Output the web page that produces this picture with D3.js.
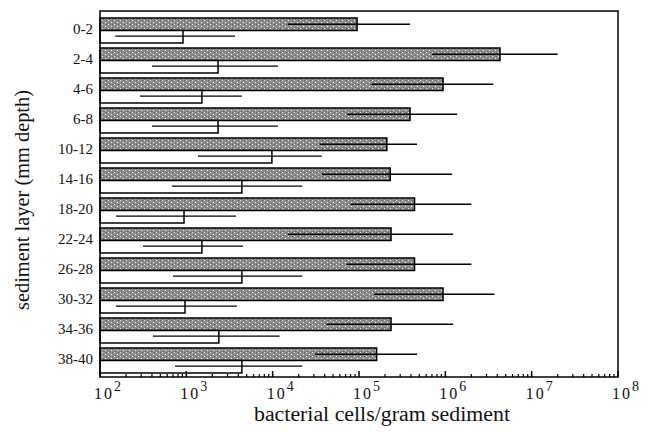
<!DOCTYPE html>
<html>
<head>
<meta charset="utf-8">
<script src="https://cdn.jsdelivr.net/npm/d3@7"></script>
<style>
  body { margin: 0; background: #fff; }
  text { font-family: "Liberation Serif", "DejaVu Serif", serif; fill: #111; }
</style>
</head>
<body>
<div id="vis"></div>
<script>
// sediment layers, top to bottom
const layers = ["0-2", "2-4", "4-6", "6-8", "10-12", "14-16", "18-20", "22-24", "26-28", "30-32", "34-36", "38-40"];

// upper (stippled) bars: mean and error range
const grayMean = [9.5e4, 4.3e6, 9.4e5, 3.9e5, 2.1e5, 2.3e5, 4.4e5, 2.35e5, 4.4e5, 9.4e5, 2.35e5, 1.6e5];
const grayLow  = [1.5e4, 7.0e5, 1.4e5, 7.3e4, 3.5e4, 3.7e4, 8.0e4, 1.5e4, 7.2e4, 1.5e5, 4.2e4, 3.1e4];
const grayHigh = [3.9e5, 2.0e7, 3.6e6, 1.37e6, 4.7e5, 1.2e6, 2.0e6, 1.23e6, 2.0e6, 3.7e6, 1.23e6, 4.7e5];

// lower (white) bars: mean and error range
const whiteMean = [915, 2330, 1515, 2330, 9800, 4400, 940, 1515, 4400, 965, 2380, 4400];
const whiteLow  = [150, 400, 290, 400, 1365, 680, 153, 315, 700, 153, 410, 740];
const whiteHigh = [3660, 11500, 4400, 11500, 37000, 22000, 3760, 4530, 22000, 3860, 12000, 22000];

const decades = [2, 3, 4, 5, 6, 7, 8];

const width = 651, height = 432;
const mLeft = 100, mRight = 618, mTop = 11, mBottom = 377;

const svg = d3.create("svg").attr("width", width).attr("height", height);

// stipple texture for the upper bars
const defs = svg.append("defs");
const pat = defs.append("pattern").attr("id", "stipple")
  .attr("patternUnits", "userSpaceOnUse").attr("width", 6).attr("height", 4);
pat.append("rect").attr("width", 6).attr("height", 4).attr("fill", "#8c8c8c");
pat.append("rect").attr("x", 0).attr("y", 0).attr("width", 1).attr("height", 1).attr("fill", "#e8e8e8");
pat.append("rect").attr("x", 3).attr("y", 2).attr("width", 1).attr("height", 1).attr("fill", "#f4f4f4");
pat.append("rect").attr("x", 4).attr("y", 0).attr("width", 1).attr("height", 1).attr("fill", "#5a5a5a");
pat.append("rect").attr("x", 1).attr("y", 3).attr("width", 1).attr("height", 1).attr("fill", "#6a6a6a");

const x = d3.scaleLog().domain([1e2, 1e8]).range([mLeft, mRight]);
const y = d3.scaleBand().domain(layers).range([15.5, 375.5])
  .paddingInner(1 / 6).paddingOuter(1 / 12);
const half = y.bandwidth() / 2;

const rows = layers.map((l, i) => ({
  l, gm: grayMean[i], gl: grayLow[i], gh: grayHigh[i],
  wm: whiteMean[i], wl: whiteLow[i], wh: whiteHigh[i]
}));

const g = svg.append("g");

// stippled bars
g.selectAll(".gbar").data(rows).join("rect").attr("class", "gbar")
  .attr("x", x(1e2)).attr("y", d => y(d.l))
  .attr("width", d => x(d.gm) - x(1e2)).attr("height", half)
  .attr("fill", "url(#stipple)").attr("stroke", "#000").attr("stroke-width", 1.5);

// white bars
g.selectAll(".wbar").data(rows).join("rect").attr("class", "wbar")
  .attr("x", x(1e2)).attr("y", d => y(d.l) + half)
  .attr("width", d => x(d.wm) - x(1e2)).attr("height", half)
  .attr("fill", "#fff").attr("stroke", "#000").attr("stroke-width", 1.5);

// error lines
g.selectAll(".gerr").data(rows).join("line").attr("class", "gerr")
  .attr("x1", d => x(d.gl)).attr("x2", d => x(d.gh))
  .attr("y1", d => y(d.l) + half / 2).attr("y2", d => y(d.l) + half / 2)
  .attr("stroke", "#000").attr("stroke-width", 1.4);

g.selectAll(".werr").data(rows).join("line").attr("class", "werr")
  .attr("x1", d => x(d.wl)).attr("x2", d => x(d.wh))
  .attr("y1", d => y(d.l) + half * 1.45).attr("y2", d => y(d.l) + half * 1.45)
  .attr("stroke", "#000").attr("stroke-width", 1.4);

// frame
svg.append("rect").attr("x", mLeft).attr("y", mTop)
  .attr("width", mRight - mLeft).attr("height", mBottom - mTop)
  .attr("fill", "none").attr("stroke", "#000").attr("stroke-width", 1.5);

// log ticks on the bottom axis, pointing inwards
const minor = [];
for (let e = 2; e < 8; e++) for (let k = 2; k <= 9; k++) minor.push(k * Math.pow(10, e));
svg.selectAll(".minor").data(minor).join("line")
  .attr("x1", d => x(d)).attr("x2", d => x(d))
  .attr("y1", mBottom).attr("y2", mBottom - 3)
  .attr("stroke", "#000").attr("stroke-width", 1.2);
svg.selectAll(".major").data(decades).join("line")
  .attr("x1", d => x(Math.pow(10, d))).attr("x2", d => x(Math.pow(10, d)))
  .attr("y1", mBottom).attr("y2", mBottom - 6)
  .attr("stroke", "#000").attr("stroke-width", 1.5);

// tick labels: 10 with superscript
const tl = svg.selectAll(".tlab").data(decades).join("text")
  .attr("x", d => x(Math.pow(10, d)) - 6).attr("y", 399)
  .style("font-size", "16px");
tl.append("tspan").text("10").style("letter-spacing", "2px");
tl.append("tspan").text(d => d).attr("dx", 0).attr("dy", -8).style("font-size", "14px");

// category labels
svg.selectAll(".ylab").data(layers).join("text")
  .attr("x", 93).attr("y", d => y(d) + 11).attr("dy", "0.35em")
  .attr("text-anchor", "end").style("font-size", "15px").text(d => d);

// axis titles
svg.append("text").attr("x", 254).attr("y", 421)
  .style("font-size", "20px")
  .attr("textLength", 256).attr("lengthAdjust", "spacingAndGlyphs")
  .text("bacterial cells/gram sediment");

svg.append("text").attr("transform", "translate(29,310) rotate(-90)")
  .style("font-size", "20px")
  .attr("textLength", 220).attr("lengthAdjust", "spacingAndGlyphs")
  .text("sediment layer (mm depth)");

document.getElementById("vis").appendChild(svg.node());
</script>
</body>
</html>
